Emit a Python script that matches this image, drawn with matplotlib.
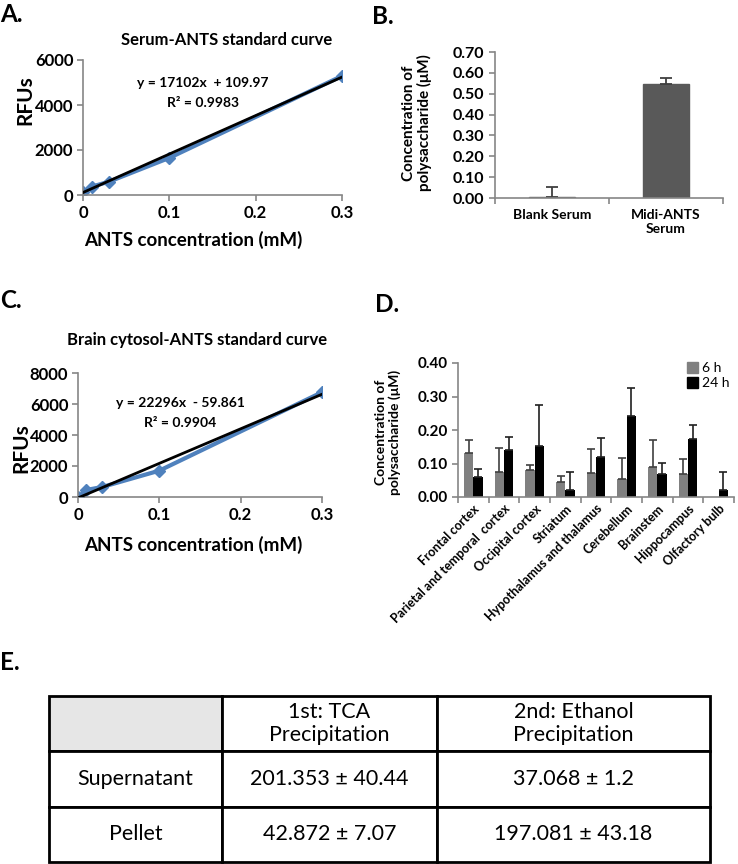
import matplotlib
matplotlib.use("Agg")
import matplotlib.pyplot as plt
from matplotlib.patches import Patch
import numpy as np

plt.rcParams['font.family'] = ['Lato', 'DejaVu Sans']

W, H = 738, 864
SPINE = '#868686'

# A: serum standard curve
serum_conc = [0, 0.01, 0.03, 0.1, 0.3]
serum_rfu = [150, 370, 590, 1650, 5290]
serum_fit = (17102, 109.97)
# C: brain cytosol standard curve
brain_conc = [0, 0.01, 0.03, 0.1, 0.3]
brain_rfu = [0, 450, 650, 1700, 6760]
brain_fit = (22296, -59.861)
# B: serum concentrations
b_cats = ['Blank Serum', 'Midi-ANTS\nSerum']
b_vals = [0.005, 0.547]
b_err = [0.048, 0.028]
# D: brain regions
regions = ['Frontal cortex', 'Parietal and temporal  cortex', 'Occipital cortex', 'Striatum',
           'Hypothalamus and thalamus', 'Cerebellum', 'Brainstem', 'Hippocampus', 'Olfactory bulb']
h6 = [0.131, 0.075, 0.082, 0.045, 0.071, 0.055, 0.091, 0.068, 0.0]
h6_err = [0.040, 0.072, 0.015, 0.018, 0.071, 0.062, 0.080, 0.044, 0.0]
h24 = [0.059, 0.139, 0.151, 0.022, 0.118, 0.242, 0.068, 0.172, 0.022]
h24_err = [0.026, 0.041, 0.123, 0.052, 0.059, 0.082, 0.033, 0.042, 0.052]
# E: table
col_labels = ['', '1st: TCA\nPrecipitation', '2nd: Ethanol\nPrecipitation']
row_labels = ['Supernatant', 'Pellet']
tca = ['201.353 ± 40.44', '42.872 ± 7.07']
ethanol = ['37.068 ± 1.2', '197.081 ± 43.18']


def box(l, t, r, b):
    return [l / W, 1 - b / H, (r - l) / W, (b - t) / H]


def ftext(x, y, s, **kw):
    fig.text(x / W, 1 - y / H, s, **kw)


def style(ax):
    for s in ['top', 'right']:
        ax.spines[s].set_visible(False)
    for s in ['left', 'bottom']:
        ax.spines[s].set_color(SPINE)
        ax.spines[s].set_linewidth(1.2)
    ax.tick_params(color=SPINE, length=4, width=1.2)


fig = plt.figure(figsize=(W / 100, H / 100), dpi=100)

# panel letters
for lab, x, y in [('A.', 0, 14), ('B.', 372, 17), ('C.', 0, 300), ('D.', 375, 305), ('E.', 0, 662)]:
    ftext(x, y, lab, fontsize=17.5, fontweight='bold', va='center', ha='left')


def std_curve(rect, xs, ys, fit, ymax, ystep, title, title_xy, eq_xy, r2, ylab_xy, xlab_y):
    ax = fig.add_axes(box(*rect))
    style(ax)
    xx = np.array([0, 0.3])
    ax.plot(xs, ys, color='#4F81BD', lw=3, marker='D', ms=6.5, zorder=2)
    ax.plot(xx, fit[0] * xx + fit[1], color='black', lw=2, zorder=3)
    ax.set_xlim(0, 0.3)
    ax.set_ylim(0, ymax)
    ax.set_xticks([0, 0.1, 0.2, 0.3])
    ax.set_xticklabels(['0', '0.1', '0.2', '0.3'])
    ax.set_yticks(np.arange(0, ymax + 1, ystep))
    ax.tick_params(labelsize=12, pad=3)
    for t in ax.get_xticklabels() + ax.get_yticklabels():
        t.set_fontweight('bold')
    ftext(*title_xy, title, fontsize=12, fontweight='bold', ha='center', va='center')
    sign = '+' if fit[1] >= 0 else '-'
    ftext(eq_xy[0], eq_xy[1], 'y = %dx  %s %s' % (fit[0], sign, abs(fit[1])),
          fontsize=10, fontweight='bold', ha='center', va='center')
    ftext(eq_xy[0], eq_xy[1] + 20, 'R² = %s' % r2, fontsize=10, fontweight='bold', ha='center', va='center')
    ftext(*ylab_xy, 'RFUs', fontsize=15, fontweight='bold', rotation=90, ha='center', va='center')
    ftext(193, xlab_y, 'ANTS concentration (mM)', fontsize=13.5, fontweight='bold', ha='center', va='center')
    return ax


std_curve((83, 60, 342, 195), serum_conc, serum_rfu, serum_fit, 6000, 2000,
          'Serum-ANTS standard curve', (227, 40), (203, 83), '0.9983', (25, 100), 240)
std_curve((78, 373, 322, 497), brain_conc, brain_rfu, brain_fit, 8000, 2000,
          'Brain cytosol-ANTS standard curve', (197, 340), (180, 403), '0.9904', (21, 448), 545)

# B
axb = fig.add_axes(box(495, 52, 723, 198))
style(axb)
xb = np.arange(len(b_cats))
axb.bar(xb, b_vals, width=0.4, color='#595959', edgecolor='#595959')
axb.errorbar(xb, b_vals, yerr=[np.zeros(len(b_err)), b_err], fmt='none', ecolor='#404040',
             elinewidth=1.3, capsize=4, capthick=1.3)
axb.set_xlim(-0.5, len(b_cats) - 0.5)
axb.set_ylim(0, 0.7)
axb.set_yticks(np.arange(0, 0.71, 0.1))
axb.set_yticklabels(['%.2f' % v for v in np.arange(0, 0.71, 0.1)])
axb.set_xticks(np.arange(-0.5, len(b_cats), 1))
axb.set_xticklabels([])
axb.set_xticks(xb, minor=True)
axb.set_xticklabels(b_cats, minor=True)
axb.tick_params(axis='x', which='minor', length=0, pad=8)
axb.tick_params(labelsize=11.5)
for t in axb.get_yticklabels() + axb.get_xticklabels(minor=True):
    t.set_fontweight('bold')
ftext(417, 123, 'Concentration of\npolysaccharide (μM)', fontsize=11, fontweight='bold',
      rotation=90, ha='center', va='center', linespacing=1.1)

# D
axd = fig.add_axes(box(458, 363, 734, 497))
style(axd)
xd = np.arange(len(regions))
bw = 0.3
axd.bar(xd - bw / 2, h6, width=bw, color='#808080', label='6 h')
axd.bar(xd + bw / 2, h24, width=bw, color='black', label='24 h')
e6 = [i for i, v in enumerate(h6) if v > 0]
axd.errorbar(xd[e6] - bw / 2, np.array(h6)[e6], yerr=[np.zeros(len(e6)), np.array(h6_err)[e6]],
             fmt='none', ecolor='#404040', elinewidth=1.2, capsize=3, capthick=1.2)
axd.errorbar(xd + bw / 2, h24, yerr=[np.zeros(len(h24)), h24_err],
             fmt='none', ecolor='#202020', elinewidth=1.2, capsize=3, capthick=1.2)
axd.set_xlim(-0.5, len(regions) - 0.5)
axd.set_ylim(0, 0.4)
axd.set_yticks(np.arange(0, 0.41, 0.1))
axd.set_yticklabels(['%.2f' % v for v in np.arange(0, 0.41, 0.1)])
axd.set_xticks(np.arange(-0.5, len(regions), 1))
axd.set_xticklabels([])
axd.set_xticks(xd, minor=True)
axd.set_xticklabels(regions, minor=True, rotation=45, ha='right', rotation_mode='anchor')
axd.tick_params(axis='x', which='minor', length=0, pad=4, labelsize=9)
axd.tick_params(axis='y', labelsize=11)
for t in axd.get_yticklabels() + axd.get_xticklabels(minor=True):
    t.set_fontweight('bold')
axd.legend(handles=[Patch(color='#808080', label='6 h'), Patch(color='black', label='24 h')],
           loc='upper right', bbox_to_anchor=(1.03, 1.1), frameon=False, fontsize=10,
           handlelength=0.8, handleheight=0.8, handletextpad=0.3, labelspacing=0.2)
ftext(388, 432, 'Concentration of\npolysaccharide (μM)', fontsize=10, fontweight='bold',
      rotation=90, ha='center', va='center', linespacing=1.1)

# E table
axt = fig.add_axes(box(49, 696, 710, 862))
axt.axis('off')
cells = [col_labels] + [[row_labels[i], tca[i], ethanol[i]] for i in range(len(row_labels))]
cw = np.array([173, 215, 273]) / 661
tbl = axt.table(cellText=cells, cellLoc='center', colWidths=list(cw), bbox=[0, 0, 1, 1])
tbl.auto_set_font_size(False)
for (r, c), cell in tbl.get_celld().items():
    cell.set_linewidth(2)
    cell.set_edgecolor('black')
    cell.get_text().set_fontsize(15.5)
    cell.get_text().set_linespacing(1.2)
    if r == 0 and c == 0:
        cell.set_facecolor('#e6e6e6')

fig.savefig('out.png', dpi=100)
